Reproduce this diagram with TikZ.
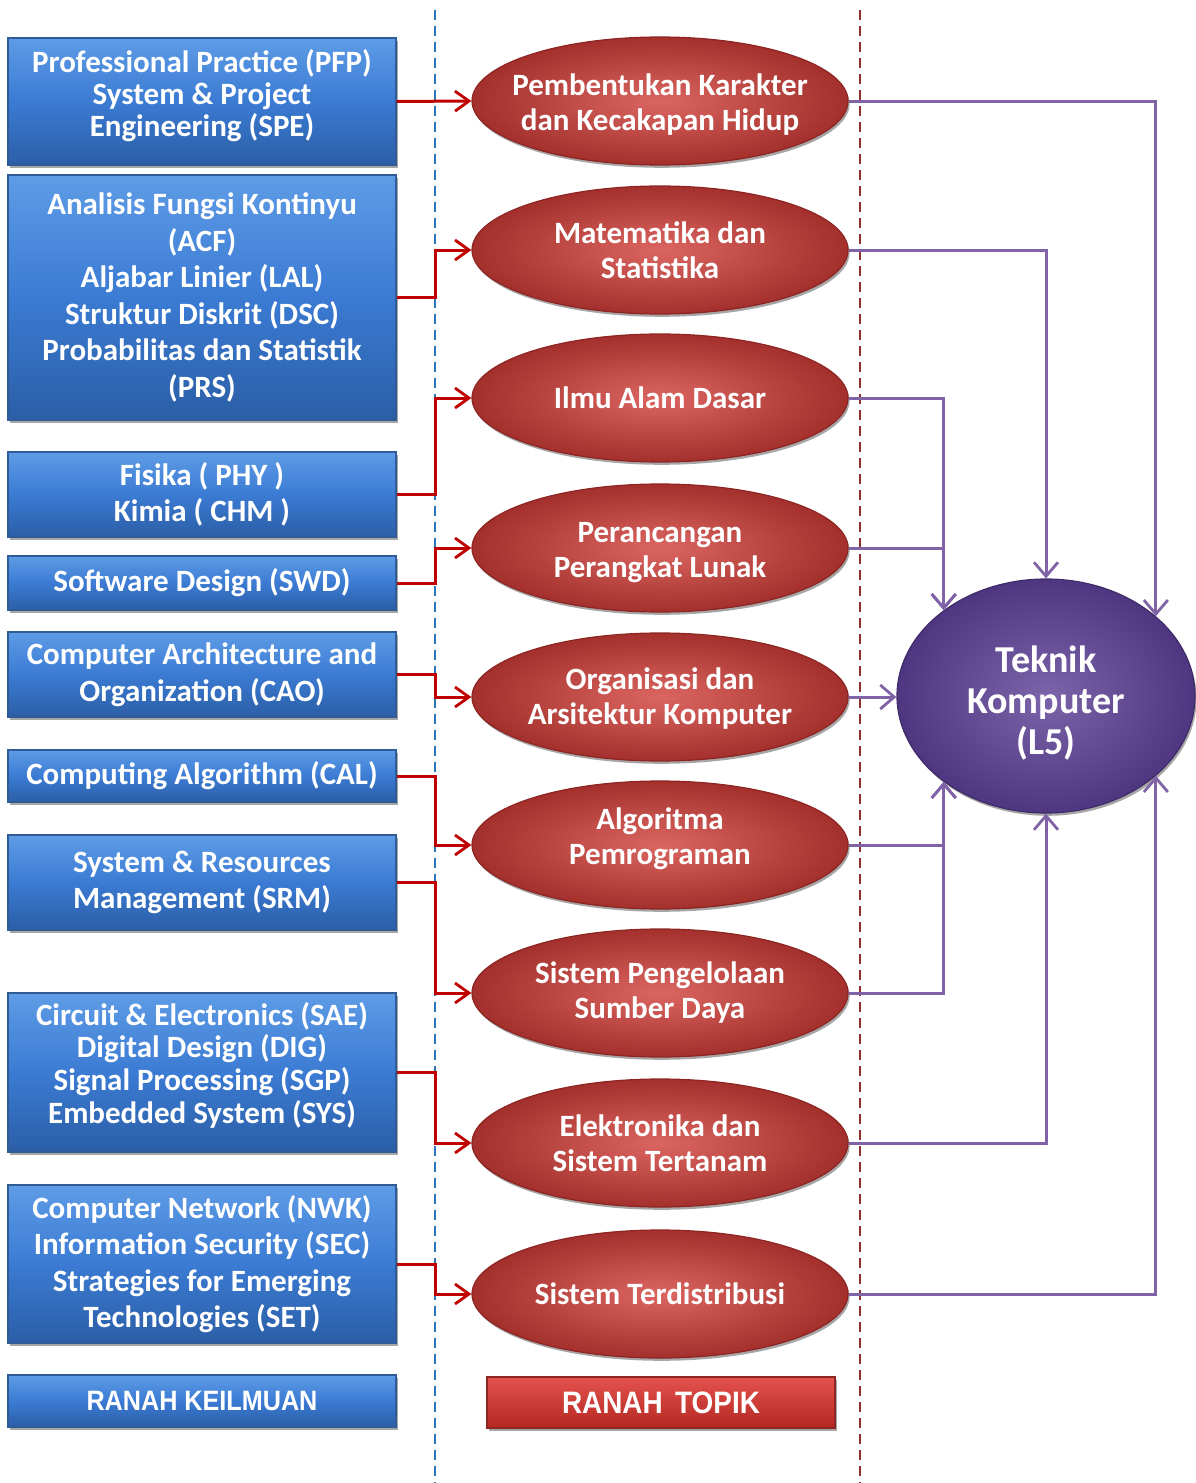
\documentclass[tikz,border=0pt]{standalone}
\usepackage{fontspec}
\setmainfont{Carlito}
\newfontfamily\narrowfont[FakeStretch=0.9]{Liberation Sans}
\usetikzlibrary{shapes.geometric,arrows.meta,shadows}

\definecolor{boxtop}{HTML}{5E9CE6}
\definecolor{boxmid}{HTML}{3B7BD3}
\definecolor{boxbot}{HTML}{2B5EA6}
\definecolor{boxedge}{HTML}{2F5C96}
\definecolor{ovalin}{HTML}{DB6561}
\definecolor{ovalout}{HTML}{A3302C}
\definecolor{ovaledge}{HTML}{8E2522}
\definecolor{tagtop}{HTML}{E4524C}
\definecolor{tagbot}{HTML}{B42722}
\definecolor{hubin}{HTML}{7C64AA}
\definecolor{hubout}{HTML}{4E3780}
\definecolor{hubedge}{HTML}{3F2A6A}
\definecolor{linkred}{HTML}{C00000}
\definecolor{linkpurple}{HTML}{7F63A6}
\definecolor{dashblue}{HTML}{2D77B8}
\definecolor{dashred}{HTML}{8E3030}

% centred lines of text, lifted by #1 without changing the box size
\newcommand\liftedlines[2]{\raisebox{#1}[\height][\depth]{\begin{tabular}{@{}c@{}}#2\end{tabular}}}

\begin{document}
\begin{tikzpicture}[x=0.5pt,y=-0.5pt,
  softshadow/.style={drop shadow={shadow xshift=0.8pt,shadow yshift=-1.4pt,fill=black,opacity=0.35}},
  keilmuan/.style={rectangle, draw=boxedge, line width=0.6pt,
    top color=boxtop, bottom color=boxbot, middle color=boxmid,
    minimum width=194pt, inner sep=2pt, align=center, text=white,
    font=\bfseries\fontsize{15.5}{18.25}\selectfont, softshadow},
  topik/.style={ellipse, draw=ovaledge, line width=0.6pt,
    shading=radial, inner color=ovalin, outer color=ovalout,
    minimum width=188pt, minimum height=64pt, inner xsep=-25pt, inner ysep=0pt,
    align=center, text=white,
    font=\bfseries\fontsize{15.5}{17.5}\selectfont, softshadow},
  redlink/.style={draw=linkred, line width=1.5pt,
    -{Straight Barb[length=7pt,width=10pt,line width=1.4pt]}},
  purplelink/.style={draw=linkpurple, line width=1.5pt,
    -{Straight Barb[length=7pt,width=12pt,line width=1.4pt]}},
  divider/.style={line width=1.3pt, dash pattern=on 5pt off 3pt}
]
\useasboundingbox (0,0) rectangle (1195,1483);

% column dividers
\coordinate (bltop) at (435,10);
\coordinate (blbot) at (435,1483);
\coordinate (rdtop) at (860,10);
\coordinate (rdbot) at (860,1483);
\draw[divider, dashblue] (bltop) -- (blbot);
\draw[divider, dashred] (rdtop) -- (rdbot);

% knowledge areas
\node[keilmuan, minimum height=63.5pt, font=\bfseries\fontsize{15.5}{16}\selectfont] (b1) at (202,101.5)
  {\liftedlines{1.8pt}{Professional Practice (PFP)\\System \& Project\\Engineering (SPE)}};
\node[keilmuan, minimum height=122.5pt] (b2) at (202,297.5)
  {Analisis Fungsi Kontinyu\\(ACF)\\Aljabar Linier (LAL)\\Struktur Diskrit (DSC)\\Probabilitas dan Statistik\\(PRS)};
\node[keilmuan, minimum height=42.5pt] (b3) at (202,494.5) {Fisika ( PHY )\\Kimia ( CHM )};
\node[keilmuan, minimum height=27pt] (b4) at (202,583) {Software Design (SWD)};
\node[keilmuan, minimum height=42.5pt] (b5) at (202,674.5) {Computer Architecture and\\Organization (CAO)};
\node[keilmuan, minimum height=26pt] (b6) at (202,776) {Computing Algorithm (CAL)};
\node[keilmuan, minimum height=47.5pt] (b7) at (202,882.5) {System \& Resources\\Management (SRM)};
\node[keilmuan, minimum height=79.5pt, font=\bfseries\fontsize{15.5}{16}\selectfont] (b8) at (202,1072.5)
  {\liftedlines{2.5pt}{Circuit \& Electronics (SAE)\\Digital Design (DIG)\\Signal Processing (SGP)\\Embedded System (SYS)}};
\node[keilmuan, minimum height=79pt] (b9) at (202,1264)
  {Computer Network (NWK)\\Information Security (SEC)\\Strategies for Emerging\\Technologies (SET)};
\node[keilmuan, minimum height=26pt, font=\narrowfont\bfseries\fontsize{14}{16}\selectfont] (b10) at (202,1401) {RANAH KEILMUAN};

% topics
\node[topik] (e1) at (660,101) {\liftedlines{-2.5pt}{Pembentukan Karakter\\dan Kecakapan Hidup}};
\node[topik] (e2) at (660,250) {Matematika dan\\Statistika};
\node[topik] (e3) at (660,398) {Ilmu Alam Dasar};
\node[topik] (e4) at (660,548) {\liftedlines{-2.5pt}{Perancangan\\Perangkat Lunak}};
\node[topik] (e5) at (660,697) {\liftedlines{-1.5pt}{Organisasi dan\\Arsitektur Komputer}};
\node[topik] (e6) at (660,845) {\liftedlines{2.5pt}{Algoritma\\Pemrograman}};
\node[topik] (e7) at (660,993) {Sistem Pengelolaan\\Sumber Daya};
\node[topik] (e8) at (660,1143) {Elektronika dan\\Sistem Tertanam};
\node[topik] (e9) at (660,1294) {Sistem Terdistribusi};
\node[rectangle, draw=ovaledge, line width=0.6pt, top color=tagtop, bottom color=tagbot,
  minimum width=174pt, minimum height=25.5pt, text=white,
  font=\narrowfont\bfseries\fontsize{15.5}{17}\selectfont, softshadow] (tag) at (661,1402.5) {RANAH\hspace{0.4em}TOPIK};

% study programme
\node[ellipse, draw=hubedge, line width=0.6pt, shading=radial, inner color=hubin, outer color=hubout,
  minimum width=149pt, minimum height=117pt, inner sep=0pt, align=center, text=white,
  font=\bfseries\fontsize{19}{20.5}\selectfont, softshadow] (tk) at (1046,696)
  {\liftedlines{-4.5pt}{Teknik\\Komputer\\(L5)}};

% knowledge areas feed topics
\draw[redlink] (b1.east) -- (e1.west);
\draw[redlink] (b2.east) -- (b2.east -| bltop) |- (e2.west);
\draw[redlink] (b3.east) -- (b3.east -| bltop) |- (e3.west);
\draw[redlink] (b4.east) -- (b4.east -| bltop) |- (e4.west);
\draw[redlink] (b5.east) -- (b5.east -| bltop) |- (e5.west);
\draw[redlink] (b6.east) -- (b6.east -| bltop) |- (e6.west);
\draw[redlink] (b7.east) -- (b7.east -| bltop) |- (e7.west);
\draw[redlink] (b8.east) -- (b8.east -| bltop) |- (e8.west);
\draw[redlink] (b9.east) -- (b9.east -| bltop) |- (e9.west);

% topics feed the programme
\draw[purplelink] (e1.east) -| (tk.36);
\draw[purplelink] (e2.east) -| (tk.north);
\draw[purplelink] (e3.east) -| (tk.140);
\draw[purplelink] (e4.east) -| (tk.140);
\draw[purplelink] (e5.east) -- (e5.east -| tk.west);
\draw[purplelink] (e6.east) -| (tk.220);
\draw[purplelink] (e7.east) -| (tk.220);
\draw[purplelink] (e8.east) -| (tk.south);
\draw[purplelink] (e9.east) -| (tk.-36);
\end{tikzpicture}
\end{document}
